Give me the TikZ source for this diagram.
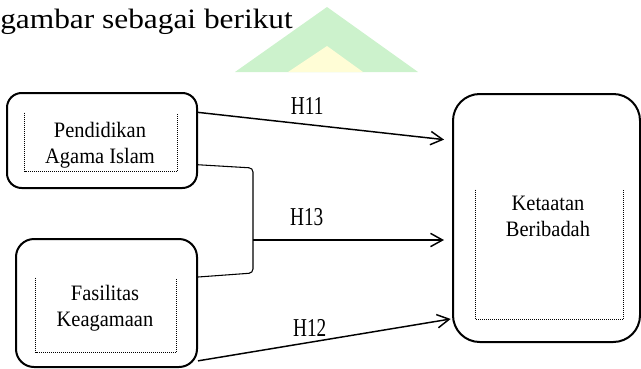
\documentclass[tikz,border=0pt]{standalone}
\usepackage{fontspec}
\setmainfont{Liberation Serif}
\newfontfamily\headfont[FakeStretch=1.12]{Liberation Serif}
\newfontfamily\boxfont[FakeStretch=0.93]{Liberation Serif}
\newfontfamily\hypfont[FakeStretch=0.75]{Liberation Serif}
\definecolor{wmgreen}{HTML}{CCF2CC}
\definecolor{wmyellow}{HTML}{FFFDD6}
\usetikzlibrary{arrows.meta, calc}

\begin{document}
\begin{tikzpicture}[
        x=0.75pt, y=-0.75pt,
        varbox/.style={draw, line width=1.5pt, rounded corners=#1, inner sep=0pt},
        frame/.style={inner sep=0pt},
        txt/.style={align=center, inner sep=0pt,
                    font=\boxfont\fontsize{16.5}{19.5}\selectfont},
        hyp/.style={inner sep=0pt, font=\hypfont\fontsize{19.3}{22}\selectfont},
        arr/.style={-{Straight Barb[length=9pt, width=10pt]}, line width=1.1pt},
        link/.style={line width=0.8pt, rounded corners=3pt}
      ]
        \useasboundingbox (0,0) rectangle (641,368);

        % watermark and running text
        \fill[wmgreen] (235,72) -- (327,7) -- (418,72) -- cycle;
        \fill[wmyellow] (288,72) -- (327,46) -- (363,72) -- cycle;
        \node[anchor=base west, inner sep=0pt, font=\headfont\fontsize{21}{24}\selectfont]
          (intro) at (0,28) {gambar sebagai berikut};

        % variables
        \node[varbox=11pt, minimum width=142.5pt, minimum height=71.25pt] (pai) at (102,140.5) {};
        \node[varbox=13.5pt, minimum width=135.75pt, minimum height=96pt] (fk) at (106.5,303) {};
        \node[varbox=20pt, minimum width=140.25pt, minimum height=186pt] (kb) at (546.5,218) {};

        \node[frame, minimum width=114pt, minimum height=43.5pt] (paif) at (101,142) {};
        \node[frame, minimum width=105pt, minimum height=55.5pt] (fkf) at (106,315) {};
        \node[frame, minimum width=110.25pt, minimum height=96.75pt] (kbf) at (549.5,254.5) {};
        \foreach \f in {paif, fkf, kbf}
          \draw[densely dotted, line width=0.5pt] (\f.north west) |- (\f.south east) -- (\f.north east);

        \node[txt] (pait) at (100,145) {Pendidikan\\Agama Islam};
        \node[txt] (fkt) at (105,308.5) {Fasilitas\\Keagamaan};
        \node[txt] (kbt) at (548,216.5) {Ketaatan\\Beribadah};

        % joint of H13
        \coordinate (j1) at (253,168);
        \coordinate (j2) at (253,273);
        \coordinate (j3) at (253,240);

        \draw[link] ($(pai.north east)!0.75!(pai.south east)$) -- (j1) -- (j2)
          -- ($(fk.north east)!0.3!(fk.south east)$);

        \draw[arr, shorten >=6pt] ($(pai.north east)!0.21!(pai.south east)$)
          -- node[hyp, above=7pt, pos=0.43] (h11) {H11} ($(kb.north west)!0.19!(kb.south west)$);
        \draw[arr, shorten >=6pt] (j3)
          -- node[hyp, above=10pt, pos=0.27] (h13) {H13} (j3 -| kb.west);
        \draw[arr, shorten >=1pt] ($(fk.north east)!0.945!(fk.south east)$)
          -- node[hyp, above=4pt, pos=0.44] (h12) {H12} ($(kb.north west)!0.903!(kb.south west)$);
      \end{tikzpicture}
\end{document}
